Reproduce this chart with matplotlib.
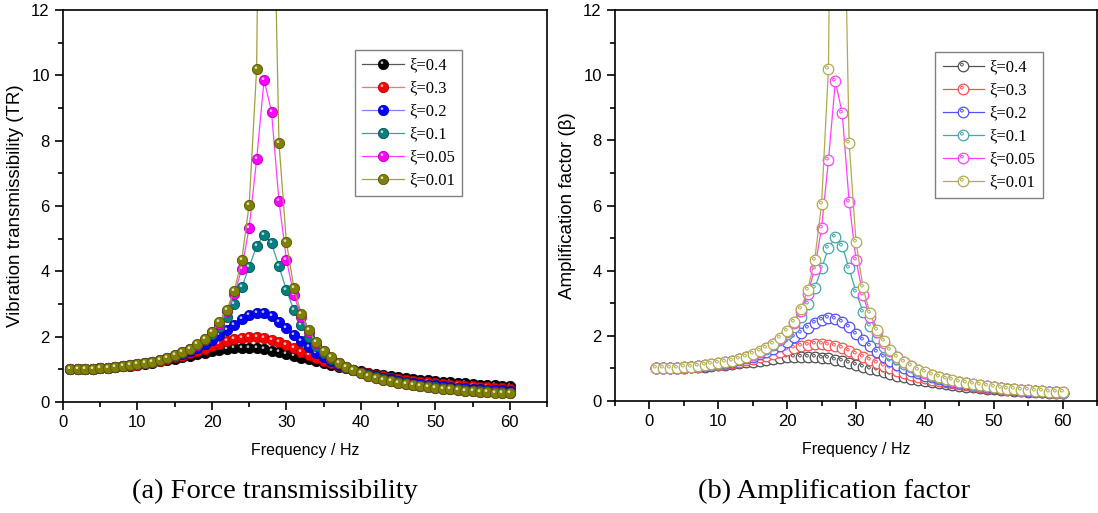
import numpy as np
import matplotlib
matplotlib.use('Agg')
import matplotlib.pyplot as plt
from matplotlib.path import Path
from matplotlib.ticker import MultipleLocator

plt.rcParams['font.family'] = ['Liberation Sans', 'DejaVu Sans']

freq = np.arange(1, 61)
labels = ['ξ=0.4', 'ξ=0.3', 'ξ=0.2', 'ξ=0.1', 'ξ=0.05', 'ξ=0.01']

# vibration transmissibility (TR)
tr_04 = [1.001, 1.005, 1.012, 1.022, 1.034, 1.049, 1.067, 1.088, 1.112, 1.140, 1.170, 1.204, 1.241, 1.280, 1.323,
         1.368, 1.414, 1.461, 1.507, 1.550, 1.589, 1.620, 1.643, 1.654, 1.653, 1.639, 1.613, 1.576, 1.530, 1.477,
         1.420, 1.361, 1.302, 1.243, 1.187, 1.132, 1.080, 1.031, 0.986, 0.943, 0.902, 0.865, 0.830, 0.797, 0.767,
         0.738, 0.712, 0.687, 0.664, 0.642, 0.621, 0.602, 0.584, 0.566, 0.550, 0.535, 0.520, 0.507, 0.494, 0.481]
tr_03 = [1.001, 1.005, 1.012, 1.022, 1.034, 1.050, 1.068, 1.090, 1.116, 1.146, 1.179, 1.218, 1.261, 1.309, 1.362,
         1.422, 1.486, 1.556, 1.631, 1.708, 1.785, 1.857, 1.920, 1.967, 1.992, 1.990, 1.960, 1.905, 1.828, 1.738,
         1.640, 1.541, 1.443, 1.350, 1.263, 1.183, 1.109, 1.042, 0.981, 0.925, 0.875, 0.829, 0.786, 0.748, 0.713,
         0.680, 0.650, 0.623, 0.597, 0.574, 0.552, 0.532, 0.513, 0.495, 0.479, 0.463, 0.449, 0.435, 0.422, 0.410]
tr_02 = [1.001, 1.005, 1.012, 1.022, 1.034, 1.050, 1.069, 1.092, 1.119, 1.150, 1.187, 1.229, 1.277, 1.333, 1.397,
         1.471, 1.556, 1.655, 1.767, 1.896, 2.041, 2.200, 2.366, 2.526, 2.656, 2.727, 2.717, 2.621, 2.458, 2.259,
         2.051, 1.853, 1.673, 1.513, 1.374, 1.253, 1.147, 1.056, 0.975, 0.905, 0.843, 0.787, 0.738, 0.694, 0.654,
         0.619, 0.586, 0.557, 0.530, 0.505, 0.482, 0.461, 0.442, 0.424, 0.408, 0.392, 0.378, 0.364, 0.352, 0.340]
tr_01 = [1.001, 1.005, 1.012, 1.022, 1.035, 1.051, 1.070, 1.093, 1.121, 1.153, 1.191, 1.236, 1.288, 1.349, 1.421,
         1.507, 1.610, 1.733, 1.885, 2.072, 2.309, 2.611, 3.003, 3.510, 4.134, 4.777, 5.120, 4.853, 4.158, 3.424,
         2.817, 2.351, 1.994, 1.719, 1.502, 1.328, 1.186, 1.069, 0.970, 0.886, 0.814, 0.751, 0.697, 0.648, 0.606,
         0.567, 0.533, 0.502, 0.475, 0.449, 0.426, 0.405, 0.385, 0.368, 0.351, 0.336, 0.322, 0.308, 0.296, 0.285]
tr_005 = [1.001, 1.005, 1.012, 1.022, 1.035, 1.051, 1.070, 1.094, 1.121, 1.154, 1.193, 1.238, 1.291, 1.354, 1.428,
          1.517, 1.625, 1.756, 1.920, 2.129, 2.402, 2.771, 3.294, 4.079, 5.337, 7.425, 9.858, 8.886, 6.154, 4.356,
          3.284, 2.601, 2.136, 1.801, 1.550, 1.355, 1.200, 1.073, 0.968, 0.880, 0.805, 0.740, 0.684, 0.635, 0.591,
          0.552, 0.518, 0.486, 0.458, 0.433, 0.410, 0.388, 0.369, 0.351, 0.334, 0.319, 0.305, 0.292, 0.280, 0.268]
tr_001 = [1.001, 1.005, 1.012, 1.022, 1.035, 1.051, 1.070, 1.094, 1.122, 1.154, 1.193, 1.238, 1.292, 1.355, 1.430,
          1.520, 1.629, 1.764, 1.932, 2.149, 2.435, 2.831, 3.410, 4.337, 6.045, 10.194, 31.09, 19.12, 7.930, 4.894,
          3.502, 2.705, 2.191, 1.832, 1.567, 1.365, 1.204, 1.075, 0.968, 0.878, 0.802, 0.736, 0.680, 0.630, 0.586,
          0.547, 0.512, 0.481, 0.453, 0.427, 0.404, 0.383, 0.363, 0.345, 0.329, 0.314, 0.299, 0.286, 0.274, 0.263]

# amplification factor (beta)
b_04 = [1.001, 1.004, 1.008, 1.015, 1.023, 1.033, 1.045, 1.059, 1.076, 1.094, 1.114, 1.136, 1.160, 1.185, 1.211,
        1.239, 1.266, 1.293, 1.317, 1.338, 1.354, 1.363, 1.363, 1.354, 1.334, 1.305, 1.266, 1.219, 1.166, 1.110,
        1.052, 0.994, 0.937, 0.882, 0.829, 0.780, 0.733, 0.690, 0.650, 0.612, 0.578, 0.546, 0.517, 0.489, 0.464,
        0.440, 0.419, 0.399, 0.380, 0.362, 0.346, 0.331, 0.316, 0.303, 0.290, 0.279, 0.268, 0.257, 0.248, 0.238]
b_03 = [1.001, 1.004, 1.010, 1.018, 1.028, 1.041, 1.056, 1.074, 1.095, 1.119, 1.146, 1.177, 1.212, 1.251, 1.294,
        1.341, 1.393, 1.448, 1.505, 1.564, 1.621, 1.673, 1.714, 1.741, 1.747, 1.729, 1.687, 1.623, 1.543, 1.452,
        1.356, 1.261, 1.169, 1.082, 1.002, 0.928, 0.861, 0.800, 0.745, 0.696, 0.650, 0.609, 0.572, 0.538, 0.507,
        0.479, 0.453, 0.429, 0.407, 0.387, 0.368, 0.351, 0.334, 0.319, 0.305, 0.292, 0.280, 0.269, 0.258, 0.248]
b_02 = [1.001, 1.005, 1.011, 1.020, 1.032, 1.046, 1.064, 1.085, 1.109, 1.138, 1.172, 1.210, 1.255, 1.306, 1.365,
        1.432, 1.510, 1.600, 1.703, 1.820, 1.951, 2.094, 2.242, 2.383, 2.494, 2.549, 2.527, 2.425, 2.263, 2.068,
        1.868, 1.678, 1.506, 1.355, 1.223, 1.108, 1.009, 0.923, 0.847, 0.781, 0.723, 0.671, 0.625, 0.584, 0.547,
        0.513, 0.483, 0.456, 0.430, 0.408, 0.387, 0.367, 0.349, 0.333, 0.318, 0.303, 0.290, 0.278, 0.266, 0.256]
b_01 = [1.001, 1.005, 1.012, 1.021, 1.034, 1.049, 1.069, 1.091, 1.118, 1.150, 1.188, 1.231, 1.282, 1.342, 1.413,
        1.497, 1.597, 1.718, 1.867, 2.051, 2.282, 2.578, 2.962, 3.457, 4.067, 4.692, 5.023, 4.754, 4.068, 3.344,
        2.747, 2.289, 1.939, 1.668, 1.455, 1.285, 1.145, 1.030, 0.933, 0.850, 0.780, 0.718, 0.664, 0.617, 0.575,
        0.538, 0.504, 0.474, 0.447, 0.422, 0.399, 0.378, 0.359, 0.342, 0.326, 0.311, 0.297, 0.284, 0.272, 0.261]
b_005 = [1.001, 1.005, 1.012, 1.022, 1.034, 1.050, 1.070, 1.093, 1.121, 1.153, 1.192, 1.237, 1.290, 1.352, 1.426,
         1.514, 1.621, 1.752, 1.916, 2.123, 2.395, 2.763, 3.283, 4.063, 5.315, 7.392, 9.810, 8.839, 6.120, 4.330,
         3.263, 2.583, 2.121, 1.788, 1.538, 1.344, 1.189, 1.063, 0.959, 0.871, 0.796, 0.732, 0.676, 0.626, 0.583,
         0.545, 0.510, 0.479, 0.451, 0.426, 0.403, 0.381, 0.362, 0.344, 0.328, 0.313, 0.299, 0.285, 0.273, 0.262]
b_001 = [1.001, 1.005, 1.012, 1.022, 1.035, 1.051, 1.070, 1.094, 1.121, 1.154, 1.193, 1.238, 1.292, 1.355, 1.430,
         1.520, 1.629, 1.764, 1.932, 2.148, 2.435, 2.830, 3.410, 4.336, 6.044, 10.192, 31.08, 19.12, 7.929, 4.893,
         3.501, 2.705, 2.191, 1.831, 1.567, 1.364, 1.204, 1.074, 0.967, 0.878, 0.802, 0.736, 0.679, 0.630, 0.586,
         0.547, 0.512, 0.481, 0.452, 0.427, 0.404, 0.382, 0.363, 0.345, 0.329, 0.313, 0.299, 0.286, 0.274, 0.262]

tr_series = [tr_04, tr_03, tr_02, tr_01, tr_005, tr_001]
b_series = [b_04, b_03, b_02, b_01, b_005, b_001]

fill_colors = ['#000000', '#ff0000', '#0000ff', '#008080', '#ff00ff', '#808000']
edge_colors = ['#000000', '#b00000', '#0000a0', '#005050', '#b000b0', '#555500']
line_colors_a = ['#555555', '#ff7070', '#8080ff', '#40a0a0', '#ff40ff', '#a0a040']
colors_b = ['#505050', '#ff5050', '#5050ff', '#40a8a8', '#ff40ff', '#b0aa50']

# small off-centre dot used as the highlight on each marker
circ = Path.circle(center=(-0.3, 0.35), radius=0.26)
glint = Path(np.vstack([[[1.0, 1.0]], circ.vertices]),
             np.concatenate([[Path.MOVETO], circ.codes]))

fig = plt.figure(figsize=(10.98, 5.13), dpi=100)
ax1 = fig.add_axes([0.0574, 0.2164, 0.4408, 0.7641])
ax2 = fig.add_axes([0.5601, 0.2183, 0.4390, 0.7622])

handles_a = []
for ys, fc, ec, lc in zip(tr_series, fill_colors, edge_colors, line_colors_a):
    l1, = ax1.plot(freq, ys, color=lc, lw=0.9)
    l2, = ax1.plot(freq, ys, ls='none', marker='o', ms=7.4, mfc=fc, mec=ec, mew=0.6)
    l3, = ax1.plot(freq, ys, ls='none', marker=glint, ms=7.4, mfc='white', mec='none', alpha=0.75)
    handles_a.append((l1, l2, l3))

handles_b = []
for ys, c in zip(b_series, colors_b):
    l1, = ax2.plot(freq, ys, color=c, lw=0.9)
    l2, = ax2.plot(freq, ys, ls='none', marker='o', ms=7.6, mfc='white', mec=c, mew=0.9)
    l3, = ax2.plot(freq, ys, ls='none', marker=glint, ms=7.6, mfc='none', mec=c, mew=0.7)
    handles_b.append((l1, l2, l3))

for ax, xmin in [(ax1, 0), (ax2, -5)]:
    ax.set_xlim(xmin, 65)
    ax.set_ylim(0, 12)
    ax.xaxis.set_major_locator(MultipleLocator(10))
    ax.xaxis.set_minor_locator(MultipleLocator(5))
    ax.yaxis.set_major_locator(MultipleLocator(2))
    ax.yaxis.set_minor_locator(MultipleLocator(1))
    ax.tick_params(which='both', direction='out', top=False, right=False, labelsize=12, width=1.2)
    ax.tick_params(which='major', length=6)
    ax.tick_params(which='minor', length=3.5)
    for s in ax.spines.values():
        s.set_linewidth(1.2)
    ax.set_xlabel('Frequency / Hz', fontsize=11.5, labelpad=9)

ax1.set_xticks([0, 10, 20, 30, 40, 50, 60])
ax2.set_xticks([0, 10, 20, 30, 40, 50, 60])
ax1.set_ylabel('Vibration transmissibility (TR)', fontsize=13.5, labelpad=5)
ax2.set_ylabel('Amplification factor (β)', fontsize=13.5, labelpad=5)

leg_kw = dict(loc='upper left', frameon=True, fancybox=False, framealpha=1, edgecolor='#808080',
              prop={'family': 'Liberation Serif', 'size': 12}, handlelength=2.5, labelspacing=0.42,
              borderpad=0.45, handletextpad=0.3, borderaxespad=0)
lg1 = ax1.legend(handles_a, labels, bbox_to_anchor=(0.603, 0.898), **leg_kw)
lg2 = ax2.legend(handles_b, labels, bbox_to_anchor=(0.664, 0.893), **leg_kw)
for lg in (lg1, lg2):
    lg.get_frame().set_linewidth(1.0)

fig.text(275 / 1098, 0.043, '(a) Force transmissibility', ha='center', va='center',
         family='Liberation Serif', fontsize=20.5)
fig.text(834 / 1098, 0.043, '(b) Amplification factor', ha='center', va='center',
         family='Liberation Serif', fontsize=20.5)

fig.savefig('out.png', dpi=100)
